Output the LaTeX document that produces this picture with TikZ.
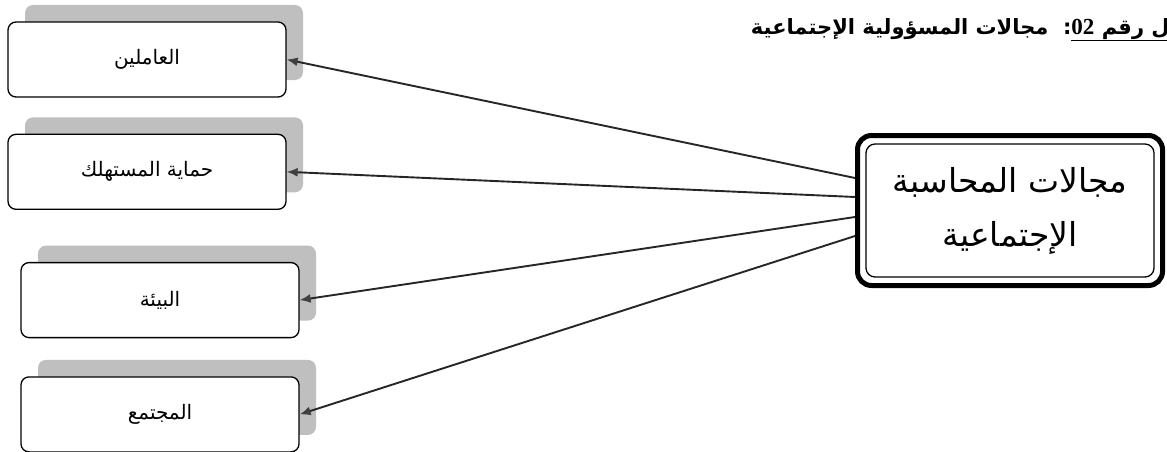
\documentclass[tikz,border=0pt]{standalone}
\usepackage{fontspec}
\newfontfamily\arabicfont[Script=Arabic]{DejaVu Sans}
\newfontfamily\latinfont{Liberation Serif}
\TeXXeTstate=1
\definecolor{grisOmbre}{RGB}{191,191,191}
\definecolor{grisFleche}{RGB}{64,64,64}
\usetikzlibrary{arrows.meta, positioning, shadows}

\begin{document}
\begin{tikzpicture}[
  x=1pt, y=1pt,
  node distance=36pt and 1cm,
  champ/.style={rectangle, rounded corners=8pt, draw, line width=1.3pt, fill=white,
                minimum width=278pt, minimum height=75pt, inner sep=0pt,
                font=\arabicfont\fontsize{20}{24}\selectfont,
                drop shadow={shadow xshift=17pt, shadow yshift=17pt,
                             fill=grisOmbre, opacity=1}},
  principal/.style={rectangle, rounded corners=14pt, draw, line width=5pt,
                    minimum width=305pt, minimum height=150pt, align=center,
                    font=\arabicfont\fontsize{33}{54}\selectfont},
  titre/.style={font=\arabicfont\bfseries\fontsize{21}{24}\selectfont, inner sep=0pt},
  fleche/.style={-{Latex[length=11pt, width=9pt, color=grisFleche]},
                 line width=1.9pt, draw=black!85}
]
\useasboundingbox (0,0) rectangle (1167,451);

% Titre
\node[titre, anchor=base east] (titre) at (1219,417)
  {\beginR\underline{\beginR الشكل رقم \beginL{\latinfont\bfseries\fontsize{23}{24}\selectfont 02}\endL\endR}:\ \ مجالات المسؤولية الإجتماعية\endR};

% Noeud central
\node[principal] (centre) at (1010,240.5)
  {\beginR مجالات المحاسبة\endR\\ \beginR الإجتماعية\endR};
\draw[line width=1.3pt, rounded corners=9pt]
  ([shift={(11pt,-11pt)}]centre.north west) rectangle ([shift={(-11pt,11pt)}]centre.south east);

% Domaines
\node[champ] (c1) at (147,391.5) {\beginR العاملين\endR};
\node[champ, below=36pt of c1] (c2) {\beginR حماية المستهلك\endR};
\node[champ, below=52pt of c2, xshift=13pt] (c3) {\beginR البيئة\endR};
\node[champ, below=38pt of c3] (c4) {\beginR المجتمع\endR};

% Fleches
\draw[fleche] ([yshift=32.5pt]centre.west)  -- (c1.east);
\draw[fleche] ([yshift=13.5pt]centre.west)  -- (c2.east);
\draw[fleche] ([yshift=-6.5pt]centre.west)  -- (c3.east);
\draw[fleche] ([yshift=-25.5pt]centre.west) -- (c4.east);

\end{tikzpicture}
\end{document}
